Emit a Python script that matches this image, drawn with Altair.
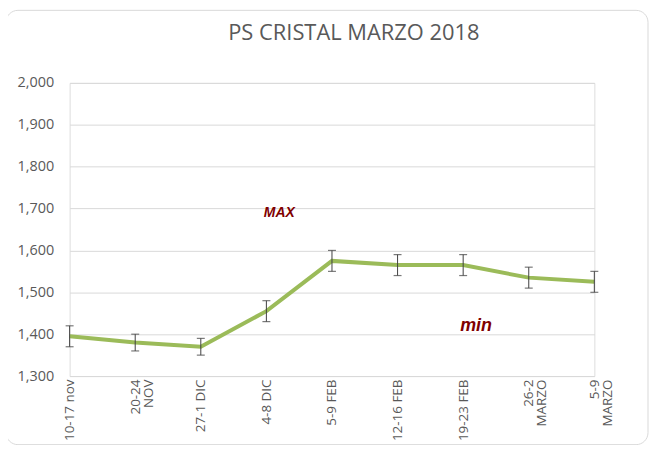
import altair as alt
import pandas as pd

title_text = "PS CRISTAL MARZO 2018"
categories = ["10-17 nov", "20-24\nNOV", "27-1 DIC", "4-8 DIC", "5-9 FEB",
              "12-16 FEB", "19-23 FEB", "26-2\nMARZO", "5-9\nMARZO"]
values = [1395, 1380, 1370, 1455, 1575, 1565, 1565, 1535, 1525]
err = [25, 20, 20, 25, 25, 25, 25, 25, 25]

ann_labels = ["MAX", "min"]
ann_cat = ["4-8 DIC", "19-23 FEB"]
ann_val = [1690, 1420]
ann_size = [14, 18]

df = pd.DataFrame({"cat": categories, "v": values,
                   "lo": [v - e for v, e in zip(values, err)],
                   "hi": [v + e for v, e in zip(values, err)]})
ann = pd.DataFrame({"t": ann_labels, "cat": ann_cat, "v": ann_val, "s": ann_size})

xenc = alt.X("cat:N", sort=categories, title=None,
             scale=alt.Scale(type="point", padding=0),
             axis=alt.Axis(labelAngle=-90, labelExpr="split(datum.label, '\\n')",
                           labelFontSize=13.5, labelColor="#595959", labelFont="Open Sans",
                           ticks=False, domain=False, grid=False, labelPadding=3,
                           labelLineHeight=13))
yscale = alt.Scale(domain=[1300, 2000], nice=False, zero=False)
yaxis = alt.Axis(values=list(range(1300, 2001, 100)), format=",.0f", title=None,
                 labelFontSize=14.5, labelColor="#595959", labelFont="Open Sans",
                 ticks=False, domain=False, gridColor="#d9d9d9", gridWidth=1,
                 labelPadding=16)

base = alt.Chart(df)
one = alt.Chart(pd.DataFrame({"t": [title_text]}))

frame = one.mark_rect(
    fill=None, stroke="#d9d9d9", strokeWidth=1, cornerRadius=12
).encode(x=alt.value(-64), x2=alt.value(582), y=alt.value(-73), y2=alt.value(364))

title = one.mark_text(fontSize=22, font="Open Sans", color="#595959",
                      align="center", baseline="middle").encode(
    x=alt.value(286), y=alt.value(-50), text="t:N")

line = base.mark_line(color="#9BBB59", strokeWidth=4).encode(
    x=xenc, y=alt.Y("v:Q", scale=yscale, axis=yaxis))
rules = base.mark_rule(color="#404040", strokeWidth=1).encode(
    x=alt.X("cat:N", sort=categories), y="lo:Q", y2="hi:Q")
cap_lo = base.mark_tick(color="#404040", thickness=1.2, size=8, orient="horizontal").encode(
    x=alt.X("cat:N", sort=categories), y="lo:Q")
cap_hi = base.mark_tick(color="#404040", thickness=1.2, size=8, orient="horizontal").encode(
    x=alt.X("cat:N", sort=categories), y="hi:Q")
text = alt.Chart(ann).mark_text(fontStyle="italic", fontWeight="bold", color="#7F0000",
                                font="Liberation Sans", dx=13).encode(
    x=alt.X("cat:N", sort=categories), y="v:Q", text="t:N",
    size=alt.Size("s:Q", scale=None, legend=None))

chart = alt.layer(frame, title, line, rules, cap_lo, cap_hi, text).properties(
    width=528, height=295,
    autosize=alt.AutoSizeParams(type="none"),
    padding={"left": 62, "top": 74, "right": 55, "bottom": 68},
).configure_view(stroke=None).configure(background="white")

chart.save("out.html", embed_options={"renderer": "svg", "actions": False})
